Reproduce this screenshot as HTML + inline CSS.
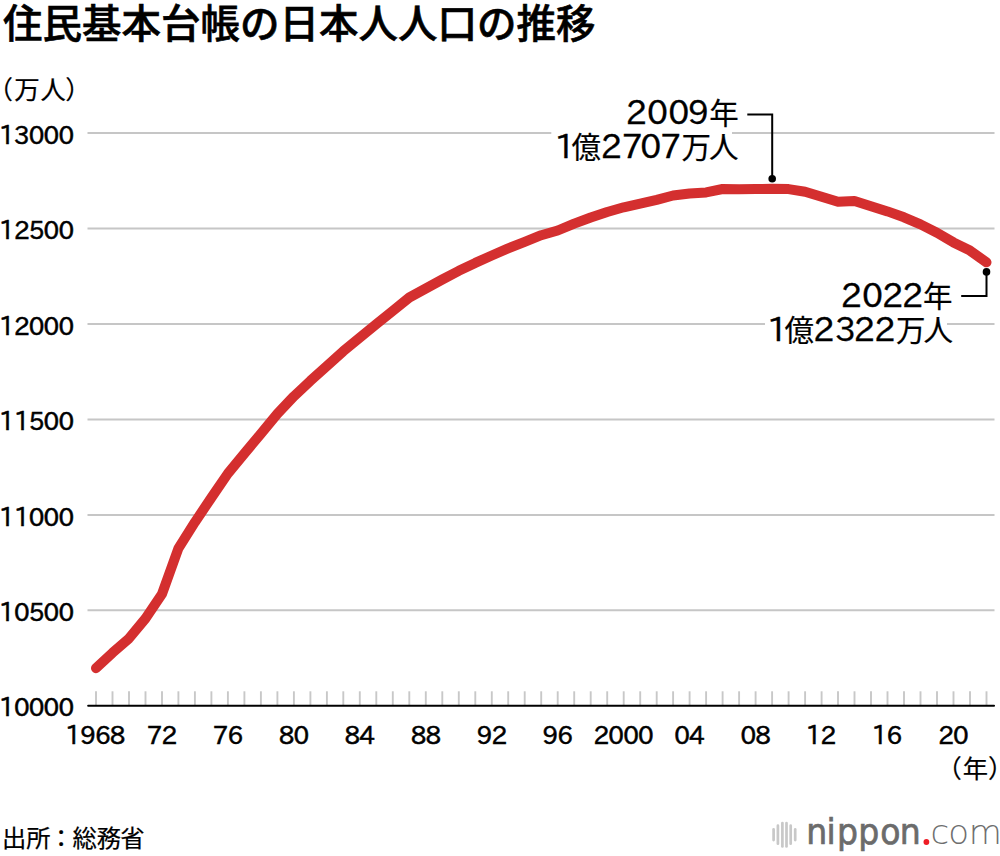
<!DOCTYPE html>
<html lang="ja"><head><meta charset="utf-8"><title>住民基本台帳の日本人人口の推移</title>
<style>
html,body{margin:0;padding:0;background:#fff;}
body{width:1000px;height:856px;overflow:hidden;}
svg{display:block;}
text{fill:#000;}
.num{font-family:"IPAPGothic","Liberation Sans",Arial,sans-serif;stroke:#000;stroke-width:0.55px;}
.d{font-family:"IPAPGothic","Liberation Sans",Arial,sans-serif;stroke:#000;stroke-width:0.3px;}
.k{font-family:"Liberation Sans","Noto Sans CJK JP",sans-serif;stroke:#000;stroke-width:0.2px;}
.title{font-family:"Liberation Sans","Noto Sans CJK JP",sans-serif;font-weight:500;font-size:39.5px;stroke:#000;stroke-width:0.6px;}
.lg1{font-family:"DejaVu Sans",sans-serif;font-weight:400;fill:#6b6b6b;stroke:#6b6b6b;stroke-width:0.7px;}
.lg2{font-family:"DejaVu Sans",sans-serif;font-weight:200;fill:#6e6e6e;}
</style></head>
<body>
<svg width="1000" height="856" viewBox="0 0 1000 856">
<path d="M87.5 132.9H551.3M732 132.9H994.5" stroke="#c6c6c6" stroke-width="2"/>
<line x1="87.5" y1="228.4" x2="994.5" y2="228.4" stroke="#c6c6c6" stroke-width="2"/>
<path d="M87.5 323.9H765M947 323.9H994.5" stroke="#c6c6c6" stroke-width="2"/>
<line x1="87.5" y1="419.4" x2="994.5" y2="419.4" stroke="#c6c6c6" stroke-width="2"/>
<line x1="87.5" y1="514.9" x2="994.5" y2="514.9" stroke="#c6c6c6" stroke-width="2"/>
<line x1="87.5" y1="610.3" x2="994.5" y2="610.3" stroke="#c6c6c6" stroke-width="2"/>
<line x1="96.0" y1="691.3" x2="96.0" y2="705" stroke="#c8c8c8" stroke-width="1.9"/>
<line x1="112.5" y1="691.3" x2="112.5" y2="705" stroke="#c8c8c8" stroke-width="1.9"/>
<line x1="129.0" y1="691.3" x2="129.0" y2="705" stroke="#c8c8c8" stroke-width="1.9"/>
<line x1="145.5" y1="691.3" x2="145.5" y2="705" stroke="#c8c8c8" stroke-width="1.9"/>
<line x1="162.0" y1="691.3" x2="162.0" y2="705" stroke="#c8c8c8" stroke-width="1.9"/>
<line x1="178.4" y1="691.3" x2="178.4" y2="705" stroke="#c8c8c8" stroke-width="1.9"/>
<line x1="194.9" y1="691.3" x2="194.9" y2="705" stroke="#c8c8c8" stroke-width="1.9"/>
<line x1="211.4" y1="691.3" x2="211.4" y2="705" stroke="#c8c8c8" stroke-width="1.9"/>
<line x1="227.9" y1="691.3" x2="227.9" y2="705" stroke="#c8c8c8" stroke-width="1.9"/>
<line x1="244.4" y1="691.3" x2="244.4" y2="705" stroke="#c8c8c8" stroke-width="1.9"/>
<line x1="260.9" y1="691.3" x2="260.9" y2="705" stroke="#c8c8c8" stroke-width="1.9"/>
<line x1="277.4" y1="691.3" x2="277.4" y2="705" stroke="#c8c8c8" stroke-width="1.9"/>
<line x1="293.9" y1="691.3" x2="293.9" y2="705" stroke="#c8c8c8" stroke-width="1.9"/>
<line x1="310.4" y1="691.3" x2="310.4" y2="705" stroke="#c8c8c8" stroke-width="1.9"/>
<line x1="326.9" y1="691.3" x2="326.9" y2="705" stroke="#c8c8c8" stroke-width="1.9"/>
<line x1="343.3" y1="691.3" x2="343.3" y2="705" stroke="#c8c8c8" stroke-width="1.9"/>
<line x1="359.8" y1="691.3" x2="359.8" y2="705" stroke="#c8c8c8" stroke-width="1.9"/>
<line x1="376.3" y1="691.3" x2="376.3" y2="705" stroke="#c8c8c8" stroke-width="1.9"/>
<line x1="392.8" y1="691.3" x2="392.8" y2="705" stroke="#c8c8c8" stroke-width="1.9"/>
<line x1="409.3" y1="691.3" x2="409.3" y2="705" stroke="#c8c8c8" stroke-width="1.9"/>
<line x1="425.8" y1="691.3" x2="425.8" y2="705" stroke="#c8c8c8" stroke-width="1.9"/>
<line x1="442.3" y1="691.3" x2="442.3" y2="705" stroke="#c8c8c8" stroke-width="1.9"/>
<line x1="458.8" y1="691.3" x2="458.8" y2="705" stroke="#c8c8c8" stroke-width="1.9"/>
<line x1="475.3" y1="691.3" x2="475.3" y2="705" stroke="#c8c8c8" stroke-width="1.9"/>
<line x1="491.8" y1="691.3" x2="491.8" y2="705" stroke="#c8c8c8" stroke-width="1.9"/>
<line x1="508.2" y1="691.3" x2="508.2" y2="705" stroke="#c8c8c8" stroke-width="1.9"/>
<line x1="524.7" y1="691.3" x2="524.7" y2="705" stroke="#c8c8c8" stroke-width="1.9"/>
<line x1="541.2" y1="691.3" x2="541.2" y2="705" stroke="#c8c8c8" stroke-width="1.9"/>
<line x1="557.7" y1="691.3" x2="557.7" y2="705" stroke="#c8c8c8" stroke-width="1.9"/>
<line x1="574.2" y1="691.3" x2="574.2" y2="705" stroke="#c8c8c8" stroke-width="1.9"/>
<line x1="590.7" y1="691.3" x2="590.7" y2="705" stroke="#c8c8c8" stroke-width="1.9"/>
<line x1="607.2" y1="691.3" x2="607.2" y2="705" stroke="#c8c8c8" stroke-width="1.9"/>
<line x1="623.7" y1="691.3" x2="623.7" y2="705" stroke="#c8c8c8" stroke-width="1.9"/>
<line x1="640.2" y1="691.3" x2="640.2" y2="705" stroke="#c8c8c8" stroke-width="1.9"/>
<line x1="656.7" y1="691.3" x2="656.7" y2="705" stroke="#c8c8c8" stroke-width="1.9"/>
<line x1="673.1" y1="691.3" x2="673.1" y2="705" stroke="#c8c8c8" stroke-width="1.9"/>
<line x1="689.6" y1="691.3" x2="689.6" y2="705" stroke="#c8c8c8" stroke-width="1.9"/>
<line x1="706.1" y1="691.3" x2="706.1" y2="705" stroke="#c8c8c8" stroke-width="1.9"/>
<line x1="722.6" y1="691.3" x2="722.6" y2="705" stroke="#c8c8c8" stroke-width="1.9"/>
<line x1="739.1" y1="691.3" x2="739.1" y2="705" stroke="#c8c8c8" stroke-width="1.9"/>
<line x1="755.6" y1="691.3" x2="755.6" y2="705" stroke="#c8c8c8" stroke-width="1.9"/>
<line x1="772.1" y1="691.3" x2="772.1" y2="705" stroke="#c8c8c8" stroke-width="1.9"/>
<line x1="788.6" y1="691.3" x2="788.6" y2="705" stroke="#c8c8c8" stroke-width="1.9"/>
<line x1="805.1" y1="691.3" x2="805.1" y2="705" stroke="#c8c8c8" stroke-width="1.9"/>
<line x1="821.6" y1="691.3" x2="821.6" y2="705" stroke="#c8c8c8" stroke-width="1.9"/>
<line x1="838.0" y1="691.3" x2="838.0" y2="705" stroke="#c8c8c8" stroke-width="1.9"/>
<line x1="854.5" y1="691.3" x2="854.5" y2="705" stroke="#c8c8c8" stroke-width="1.9"/>
<line x1="871.0" y1="691.3" x2="871.0" y2="705" stroke="#c8c8c8" stroke-width="1.9"/>
<line x1="887.5" y1="691.3" x2="887.5" y2="705" stroke="#c8c8c8" stroke-width="1.9"/>
<line x1="904.0" y1="691.3" x2="904.0" y2="705" stroke="#c8c8c8" stroke-width="1.9"/>
<line x1="920.5" y1="691.3" x2="920.5" y2="705" stroke="#c8c8c8" stroke-width="1.9"/>
<line x1="937.0" y1="691.3" x2="937.0" y2="705" stroke="#c8c8c8" stroke-width="1.9"/>
<line x1="953.5" y1="691.3" x2="953.5" y2="705" stroke="#c8c8c8" stroke-width="1.9"/>
<line x1="970.0" y1="691.3" x2="970.0" y2="705" stroke="#c8c8c8" stroke-width="1.9"/>
<line x1="986.5" y1="691.3" x2="986.5" y2="705" stroke="#c8c8c8" stroke-width="1.9"/>
<line x1="88.2" y1="705.8" x2="994" y2="705.8" stroke="#000" stroke-width="2.1" stroke-linecap="round"/>
<text x="-0.97 13.88 28.73 43.58 58.43" y="143.5" class="num" style="font-size:24.9px">13000</text>
<text x="-0.97 13.88 28.73 43.58 58.43" y="239.0" class="num" style="font-size:24.9px">12500</text>
<text x="-0.97 13.88 28.73 43.58 58.43" y="334.5" class="num" style="font-size:24.9px">12000</text>
<text x="-0.97 13.88 28.73 43.58 58.43" y="430.0" class="num" style="font-size:24.9px">11500</text>
<text x="-0.97 13.88 28.73 43.58 58.43" y="525.5" class="num" style="font-size:24.9px">11000</text>
<text x="-0.97 13.88 28.73 43.58 58.43" y="620.9" class="num" style="font-size:24.9px">10500</text>
<text x="-0.97 13.88 28.73 43.58 58.43" y="716.4" class="num" style="font-size:24.9px">10000</text>
<text x="65.37 80.17 94.97 109.77" y="743.8" class="num" style="font-size:24.9px">1968</text>
<text x="146.71 161.51" y="743.8" class="num" style="font-size:24.9px">72</text>
<text x="212.64 227.44" y="743.8" class="num" style="font-size:24.9px">76</text>
<text x="278.72 293.52" y="743.8" class="num" style="font-size:24.9px">80</text>
<text x="344.45 359.25" y="743.8" class="num" style="font-size:24.9px">84</text>
<text x="410.63 425.43" y="743.8" class="num" style="font-size:24.9px">88</text>
<text x="476.63 491.43" y="743.8" class="num" style="font-size:24.9px">92</text>
<text x="542.56 557.36" y="743.8" class="num" style="font-size:24.9px">96</text>
<text x="593.53 608.33 623.13 637.93" y="743.8" class="num" style="font-size:24.9px">2000</text>
<text x="674.26 689.06" y="743.8" class="num" style="font-size:24.9px">04</text>
<text x="740.44 755.24" y="743.8" class="num" style="font-size:24.9px">08</text>
<text x="805.81 820.61" y="743.8" class="num" style="font-size:24.9px">12</text>
<text x="871.74 886.54" y="743.8" class="num" style="font-size:24.9px">16</text>
<text x="938.13 952.93" y="743.8" class="num" style="font-size:24.9px">20</text>
<polyline points="96.0,668.2 112.5,652.8 129.0,638.4 145.5,618.5 162.0,594.0 178.4,548.4 194.9,522.2 211.4,497.6 227.9,473.5 244.4,453.5 260.9,433.8 277.4,413.8 293.9,396.3 310.4,380.8 326.9,366.0 343.3,351.2 359.8,337.6 376.3,324.2 392.8,310.8 409.3,297.5 425.8,288.5 442.3,279.5 458.8,270.8 475.3,262.9 491.8,255.5 508.2,248.3 524.7,241.8 541.2,235.2 557.7,230.5 574.2,223.6 590.7,217.5 607.2,212.0 623.7,207.3 640.2,203.7 656.7,199.8 673.1,195.5 689.6,193.5 706.1,192.4 722.6,189.0 739.1,189.2 755.6,189.0 772.1,188.8 788.6,189.1 805.1,191.7 821.6,196.7 838.0,201.8 854.5,201.0 871.0,206.2 887.5,211.4 904.0,217.3 920.5,224.4 937.0,232.7 953.5,242.4 970.0,250.6 986.5,262.3" fill="none" stroke="#d42f2f" stroke-width="10" stroke-linejoin="round" stroke-linecap="round"/>
<text x="590.34 610.35 630.40 649.14" y="123.8" class="d" style="font-size:31.55px" transform="scale(1.06,1)">2009</text>
<text x="709.18" y="123.8" class="k" style="font-size:29.5px">年</text>
<text x="523.04" y="158.0" class="d" style="font-size:31.55px" transform="scale(1.06,1)">1</text>
<text x="571.50" y="158.0" class="k" style="font-size:29.5px">億</text>
<text x="566.66 586.57 603.98 622.89" y="158.0" class="d" style="font-size:31.55px" transform="scale(1.06,1)">2707</text>
<text x="681.50 709.03" y="158.0" class="k" style="font-size:29.5px">万人</text>
<text x="793.17 813.18 832.14 851.00" y="307.3" class="d" style="font-size:31.55px" transform="scale(1.06,1)">2022</text>
<text x="922.98" y="307.3" class="k" style="font-size:29.5px">年</text>
<text x="723.51" y="341.0" class="d" style="font-size:31.55px" transform="scale(1.06,1)">1</text>
<text x="784.50" y="341.0" class="k" style="font-size:29.5px">億</text>
<text x="767.14 787.73 805.34 824.68" y="341.0" class="d" style="font-size:31.55px" transform="scale(1.06,1)">2322</text>
<text x="896.00 923.53" y="341.0" class="k" style="font-size:29.5px">万人</text>
<polyline points="747.3,114.5 772.2,114.5 772.2,178.8" fill="none" stroke="#000" stroke-width="2"/>
<circle cx="772.2" cy="178.8" r="3.8" fill="#000"/>
<polyline points="961.2,296 986.5,296 986.5,271.9" fill="none" stroke="#000" stroke-width="2"/>
<circle cx="986.5" cy="271.9" r="3.8" fill="#000"/>
<text x="3" y="38.4" class="title">住民基本台帳の日本人人口の推移</text>
<text x="-12.52 14.33 40.36 65.23" y="99.0" class="k" style="font-size:25.5px">（万人）</text>
<text x="936.42 962.79 988.04" y="777.6" class="k" style="font-size:25.3px">（年）</text>
<text x="2.05 26.27 48.90 72.57 96.73 120.28" y="846.9" class="k" style="font-size:24.3px">出所：総務省</text>
<line x1="773.6" y1="829.4" x2="773.6" y2="840.1" stroke="#c8c8c8" stroke-width="2.7" stroke-linecap="round"/>
<line x1="777.9" y1="825.6999999999999" x2="777.9" y2="843.7" stroke="#c8c8c8" stroke-width="2.7" stroke-linecap="round"/>
<line x1="782.4" y1="823.0999999999999" x2="782.4" y2="846.5" stroke="#c8c8c8" stroke-width="2.7" stroke-linecap="round"/>
<line x1="786.5" y1="823.0999999999999" x2="786.5" y2="846.5" stroke="#c8c8c8" stroke-width="2.7" stroke-linecap="round"/>
<line x1="790.7" y1="825.6999999999999" x2="790.7" y2="843.7" stroke="#c8c8c8" stroke-width="2.7" stroke-linecap="round"/>
<line x1="795.2" y1="829.4" x2="795.2" y2="840.1" stroke="#c8c8c8" stroke-width="2.7" stroke-linecap="round"/>
<text x="857.65 879.24 890.42 912.97 936.36 957.23" y="844.4" class="lg1" style="font-size:35.2px" transform="scale(0.94,1)">nippon</text>
<circle cx="926.4" cy="842" r="2.9" fill="#ee1c25"/>
<text x="930.58 948.21 968.75" y="844.4" class="lg2" style="font-size:34.0px">com</text>
</svg>
</body></html>
